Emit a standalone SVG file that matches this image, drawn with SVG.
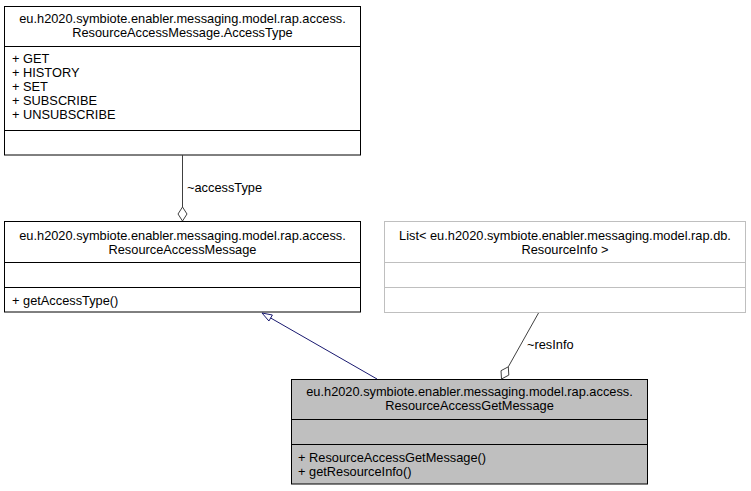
<svg xmlns="http://www.w3.org/2000/svg" width="751" height="491" viewBox="0 0 751 491">
<style>
text{font-family:"Liberation Sans",Arial,sans-serif;font-size:12.8px;fill:#000}
.c{text-anchor:middle}
.box{fill:#fff;stroke:#000;stroke-width:1}
.gbox{fill:#fff;stroke:#bfbfbf;stroke-width:1}
.sel{fill:#bfbfbf;stroke:#000;stroke-width:1}
.edge{fill:none;stroke:#404040;stroke-width:1}
.inh{fill:none;stroke:#191970;stroke-width:1}
</style>
<rect width="751" height="491" fill="#fff"/>
<g id="node-accesstype">
<rect class="box" x="4.5" y="6.5" width="356" height="148.5"/>
<line class="box" x1="4.5" y1="46.5" x2="360.5" y2="46.5"/>
<line class="box" x1="4.5" y1="130.5" x2="360.5" y2="130.5"/>
<text class="c" x="182.5" y="23">eu.h2020.symbiote.enabler.messaging.model.rap.access.</text>
<text class="c" x="182.5" y="37">ResourceAccessMessage.AccessType</text>
<text x="12" y="63">+ GET</text>
<text x="12" y="77">+ HISTORY</text>
<text x="12" y="91">+ SET</text>
<text x="12" y="105">+ SUBSCRIBE</text>
<text x="12" y="119">+ UNSUBSCRIBE</text>
</g>
<g id="node-resourceaccessmessage">
<rect class="box" x="4.5" y="221.5" width="356" height="90.5"/>
<line class="box" x1="4.5" y1="262.5" x2="360.5" y2="262.5"/>
<line class="box" x1="4.5" y1="287.5" x2="360.5" y2="287.5"/>
<text class="c" x="182.5" y="240">eu.h2020.symbiote.enabler.messaging.model.rap.access.</text>
<text class="c" x="182.5" y="254">ResourceAccessMessage</text>
<text x="12" y="305">+ getAccessType()</text>
</g>
<g id="node-list">
<rect class="gbox" x="384.5" y="221.5" width="361" height="91"/>
<line class="gbox" x1="384.5" y1="262.5" x2="745.5" y2="262.5"/>
<line class="gbox" x1="384.5" y1="287.5" x2="745.5" y2="287.5"/>
<text class="c" x="565" y="240">List&lt; eu.h2020.symbiote.enabler.messaging.model.rap.db.</text>
<text class="c" x="565" y="254">ResourceInfo &gt;</text>
</g>
<g id="node-resourceaccessgetmessage">
<rect class="sel" x="291.5" y="379.5" width="356" height="104.5"/>
<line class="sel" x1="291.5" y1="419.5" x2="647.5" y2="419.5"/>
<line class="sel" x1="291.5" y1="444.5" x2="647.5" y2="444.5"/>
<text class="c" x="469.5" y="396">eu.h2020.symbiote.enabler.messaging.model.rap.access.</text>
<text class="c" x="469.5" y="410">ResourceAccessGetMessage</text>
<text x="298" y="462">+ ResourceAccessGetMessage()</text>
<text x="298" y="476">+ getResourceInfo()</text>
</g>
<g id="connectors">
<line class="edge" x1="182.5" y1="155" x2="182.5" y2="207"/>
<polygon class="edge" fill="#fff" points="182.5,221 178,214 182.5,207 187,214"/>
<text x="187" y="192">~accessType</text>
<line class="inh" x1="377" y1="379" x2="270.7" y2="318"/>
<polygon class="inh" fill="#fff" points="262,313 272.4,315 268.9,321"/>
<line class="edge" x1="538.5" y1="313" x2="508.3" y2="366.8"/>
<polygon class="edge" fill="#fff" points="501.5,379 501,370.7 508.3,366.8 508.8,375.1"/>
<text x="527" y="349">~resInfo</text>
</g>
</svg>
